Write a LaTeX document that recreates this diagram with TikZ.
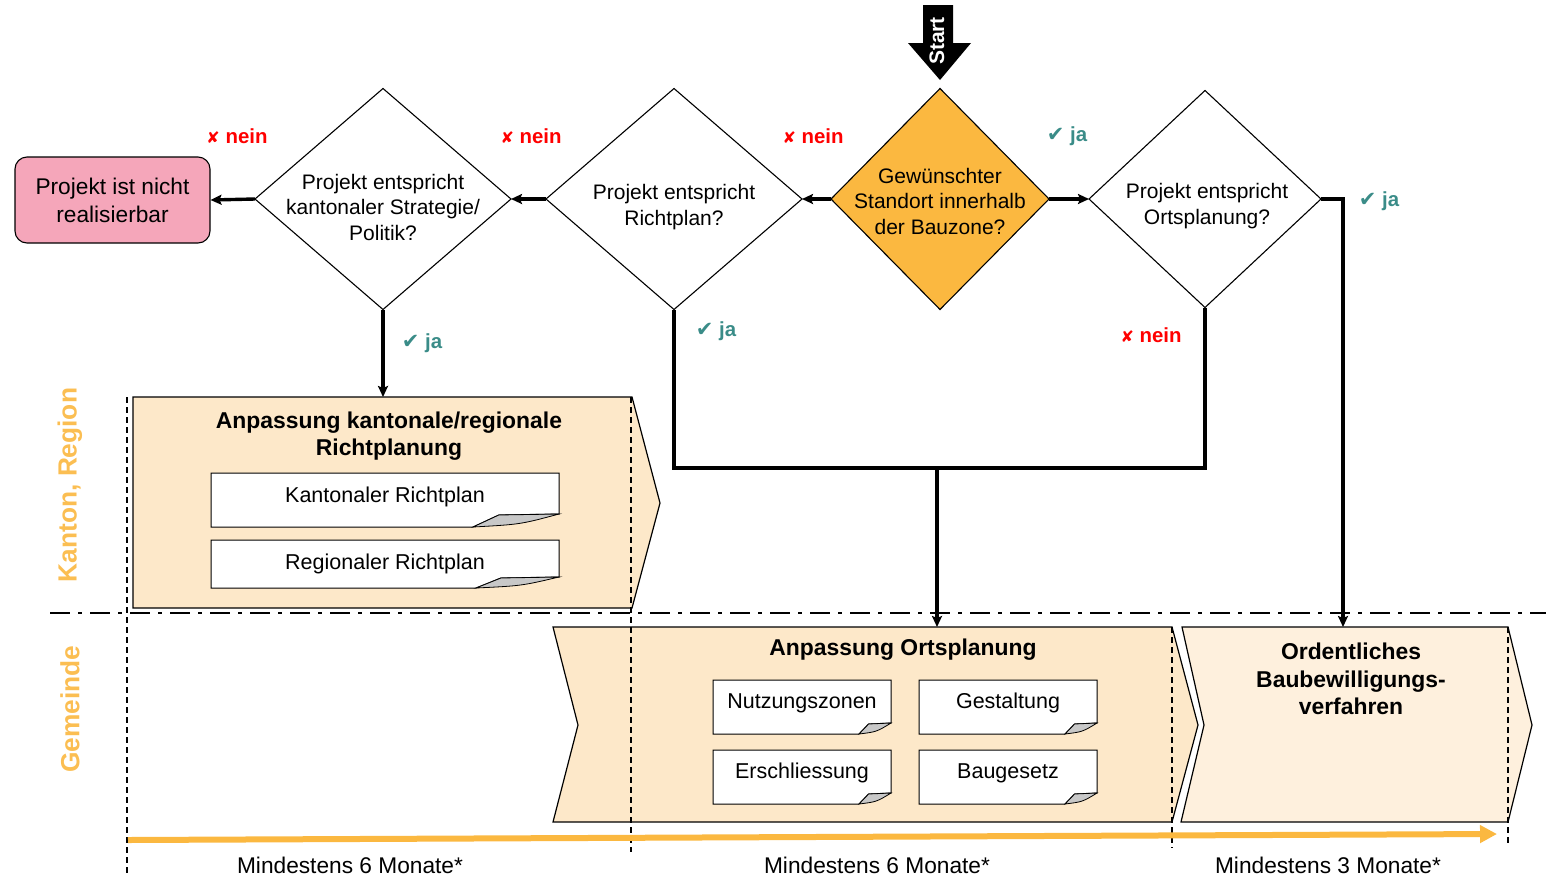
\documentclass[tikz,border=0pt]{standalone}
\usepackage{fontspec}
\setmainfont{Liberation Sans}
\newfontfamily\symfont{DejaVu Sans}
\usetikzlibrary{shapes.geometric,arrows.meta,calc}

\definecolor{gold}{RGB}{251,184,64}
\definecolor{lanegold}{RGB}{251,190,82}
\definecolor{chevfill}{RGB}{253,232,201}
\definecolor{chevlight}{RGB}{254,240,221}
\definecolor{stoppink}{RGB}{245,166,186}
\definecolor{nored}{RGB}{255,0,0}
\definecolor{yesteal}{RGB}{58,140,136}
\definecolor{foldgrey}{RGB}{200,200,200}

\newcommand\xmark{{\symfont\fontsize{16}{16}\selectfont ✘}}
\newcommand\cmark{{\symfont\fontsize{21}{21}\selectfont ✔}}

% sheet of paper with a curled lower right corner, drawn around a node
\newcommand\paper[3]{%
  \filldraw[fill=white, line width=1pt]
    (#1.north west) -- (#1.north east) -- ($(#1.south east)+(0,-#3)$)
    -- ($(#1.south east)+(-0.7*#2,-#3+1)$) -- ($(#1.south east)+(-#2,0)$)
    -- (#1.south west) -- cycle;
  \filldraw[fill=foldgrey, line width=0.8pt]
    ($(#1.south east)+(0,-#3)$) -- ($(#1.south east)+(-0.7*#2,-#3+1)$)
    -- ($(#1.south east)+(-#2,0)$)
    .. controls ($(#1.south east)+(-0.45*#2,-0.2*#3)$) .. ($(#1.south east)+(0,-#3)$)
    -- cycle;
}

\begin{document}
\begin{tikzpicture}[x=1pt,y=-1pt,
  dia/.style={draw, diamond, inner sep=0pt, outer sep=0pt, line width=1.1pt},
  dtext/.style={align=center, font=\fontsize{21}{25.5}\selectfont},
  conn/.style={line width=3.4pt, -{Stealth[length=11pt,width=10pt,inset=2pt]}},
  wire/.style={line width=3.4pt},
  chev/.style={draw, line width=1.2pt, fill=chevfill},
  title/.style={align=center, font=\bfseries\fontsize{22.9}{27.5}\selectfont},
  docnode/.style={inner sep=0pt, outer sep=0pt, minimum width=#1},
  doctext/.style={font=\fontsize{21.5}{25}\selectfont},
  nein/.style={text=nored, font=\bfseries\fontsize{20.4}{24}\selectfont},
  ja/.style={text=yesteal, font=\bfseries\fontsize{20.4}{24}\selectfont},
  lane/.style={rotate=90, text=lanegold, font=\bfseries\fontsize{26.3}{30}\selectfont},
  span/.style={font=\fontsize{22.7}{27}\selectfont},
  vsep/.style={line width=1.3pt, dash pattern=on 6pt off 4pt},
  hsep/.style={line width=2.8pt, dash pattern=on 20pt off 8pt on 4pt off 8pt}
]
\useasboundingbox (0,0) rectangle (1546,876);

% ---- phase chevrons ----
\filldraw[chev] (133,397) -- (632,397) -- (660,503) -- (632,608) -- (133,608) -- cycle;
\filldraw[chev] (553,627) -- (1172,627) -- (1198,725) -- (1172,822) -- (553,822) -- (578,725) -- cycle;
\filldraw[chev, fill=chevlight] (1182,627) -- (1508,627) -- (1532,725) -- (1508,822) -- (1181,822) -- (1204,725) -- cycle;
\coordinate (kanTop) at (383,397);
\coordinate (ortTop) at (937,627);
\coordinate (bauTop) at (1343,627);

\node[title] (kanTitle) at (389,436) {Anpassung kantonale/regionale\\Richtplanung};
\node[title] (ortTitle) at (903,650) {Anpassung Ortsplanung};
\node[title] (bauTitle) at (1351,679) {Ordentliches\\Baubewilligungs-\\verfahren};

% ---- planning documents ----
\node[docnode=348, minimum height=54] (kr) at (385,500) {};
\node[docnode=348, minimum height=48] (rr) at (385,564) {};
\node[docnode=178, minimum height=54] (nz) at (802,707) {};
\node[docnode=178, minimum height=54] (ge) at (1008,707) {};
\node[docnode=178, minimum height=54] (er) at (802,777) {};
\node[docnode=178, minimum height=54] (bg) at (1008,777) {};
\paper{kr}{86}{13}
\paper{rr}{83}{11}
\paper{nz}{32}{11}
\paper{ge}{32}{11}
\paper{er}{32}{11}
\paper{bg}{32}{11}
\node[doctext] at ($(kr)+(0,-3)$) {Kantonaler Richtplan};
\node[doctext] at ($(rr)+(0,0)$) {Regionaler Richtplan};
\node[doctext] at ($(nz)+(0,-4)$) {Nutzungszonen};
\node[doctext] at ($(ge)+(0,-4)$) {Gestaltung};
\node[doctext] at ($(er)+(0,-4)$) {Erschliessung};
\node[doctext] at ($(bg)+(0,-4)$) {Baugesetz};

% ---- lanes and time spans ----
\draw[vsep] (127,397) -- (127,876);
\draw[vsep] (631,397) -- (631,852);
\draw[vsep] (1172,627) -- (1172,848);
\draw[vsep] (1508,627) -- (1508,845);
\draw[hsep] (50,613) -- (1546,613);
\node[lane] (laneK) at (70,485) {Kanton, Region};
\node[lane] (laneG) at (70,709) {Gemeinde};
\draw[line width=6pt, gold, -{Triangle[length=17pt,width=17pt]}] (128,840) -- (1497,834);
\node[span] (t1) at (350,865) {Mindestens 6 Monate*};
\node[span] (t2) at (877,865) {Mindestens 6 Monate*};
\node[span] (t3) at (1328,865) {Mindestens 3 Monate*};

% ---- start ----
\fill (923,5) -- (953,5) -- (953,43) -- (971,43) -- (940,80) -- (908,43) -- (923,43) -- cycle;
\node[rotate=90, text=white, font=\bfseries\fontsize{21}{24}\selectfont] (start) at (937,41) {Start};

% ---- decisions ----
\node[dia, fill=gold, minimum width=218, minimum height=221] (d1) at (940,199) {};
\node[dia, minimum width=256, minimum height=221] (d2) at (674,199) {};
\node[dia, minimum width=256, minimum height=221] (d3) at (383,199) {};
\node[dia, minimum width=232, minimum height=217] (d4) at (1205,199) {};
\node[dtext] at (940,201) {Gewünschter\\Standort innerhalb\\der Bauzone?};
\node[dtext] at (674,207) {Projekt entspricht\\Richtplan?};
\node[dtext] at (383,207) {Projekt entspricht\\kantonaler Strategie/\\Politik?};
\node[dtext] at (1207,206) {Projekt entspricht\\Ortsplanung?};
\node[draw, fill=stoppink, rounded corners=12pt, line width=1.1pt, minimum width=195, minimum height=86,
      align=center, font=\fontsize{22.7}{28}\selectfont] (stop) at (112.5,200) {Projekt ist nicht\\realisierbar};

% ---- flow ----
\draw[conn] (d1.west) -- (d2.east);
\draw[conn] (d1.east) -- (d4.west);
\draw[conn] (d2.west) -- (d3.east);
\draw[conn] (d3.west) -- (stop.east);
\draw[conn] (d3.south) -- (kanTop);
\coordinate (merge) at (937,468);
\draw[wire] (d2.south) |- (merge);
\draw[wire] (d4.south) |- (merge);
\draw[conn] (merge) -- (ortTop);
\draw[conn] (d4.east) -| (bauTop);

% ---- answers ----
\node[nein] at (237,136) {\xmark\ nein};
\node[nein] at (531,136) {\xmark\ nein};
\node[nein] at (813,136) {\xmark\ nein};
\node[nein] at (1151,335) {\xmark\ nein};
\node[ja] at (1067,136) {\cmark\ ja};
\node[ja] at (1379,201) {\cmark\ ja};
\node[ja] at (422,343) {\cmark\ ja};
\node[ja] at (716,331) {\cmark\ ja};
\end{tikzpicture}
\end{document}
